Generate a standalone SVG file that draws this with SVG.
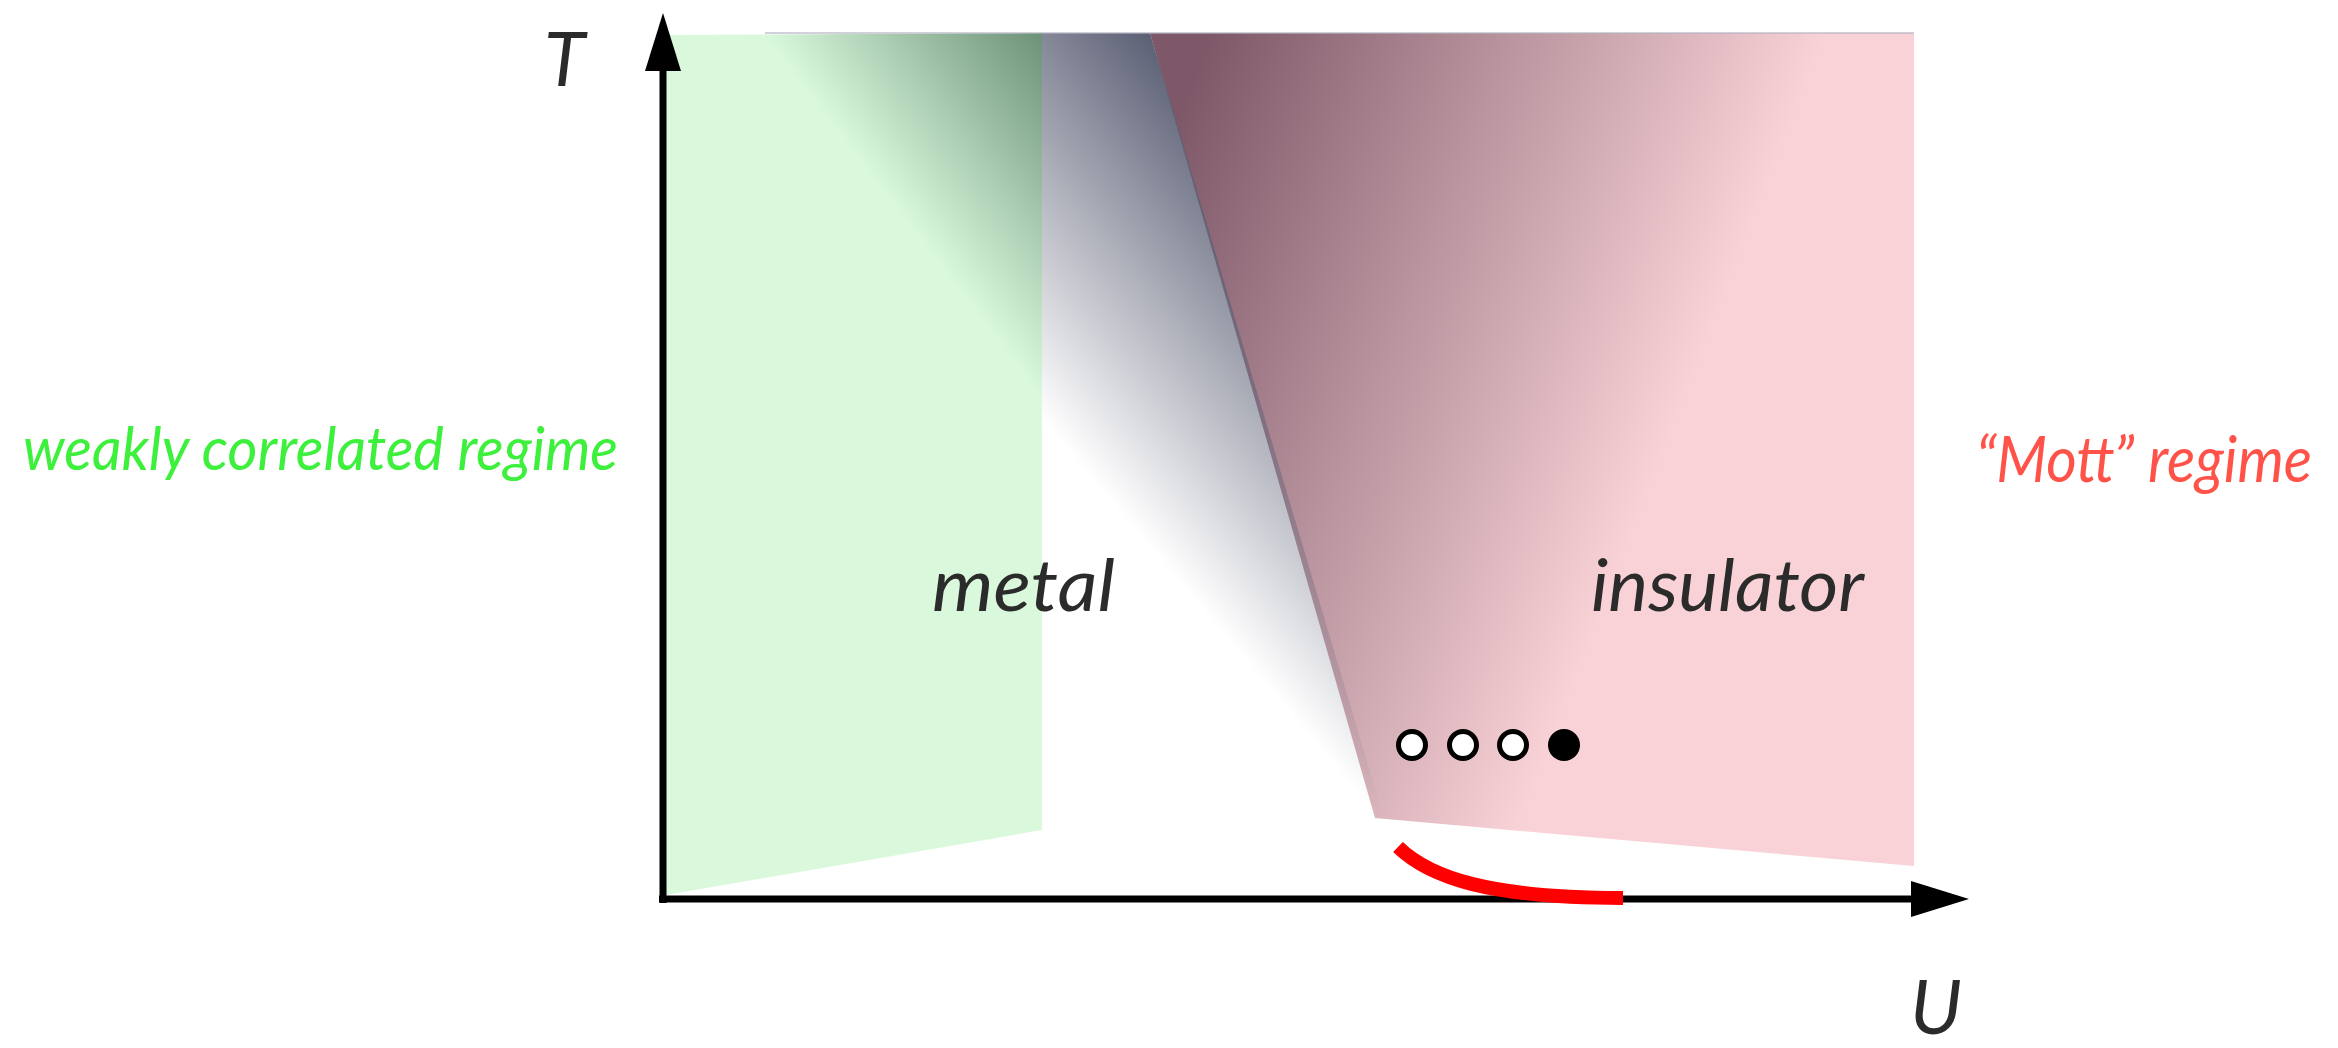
<svg xmlns="http://www.w3.org/2000/svg" width="2338" height="1048" viewBox="0 0 2338 1048">
<style>
.lbl{font-family:"Lato","Open Sans","Liberation Sans",sans-serif;font-style:italic;}
.dark{fill:#2b2b2b;}
.axis{stroke:#000;stroke-width:7;fill:none;}
.ring{fill:#fff;stroke:#000;stroke-width:5;}
</style>
<defs>
<linearGradient id="gGreen" gradientUnits="userSpaceOnUse" x1="865" y1="168" x2="1041" y2="33">
<stop offset="0" stop-color="#daf9dc"/>
<stop offset="1" stop-color="#6c9278"/>
</linearGradient>
<linearGradient id="gPink" gradientUnits="userSpaceOnUse" x1="1210" y1="33" x2="1746" y2="240">
<stop offset="0" stop-color="#7e5868"/>
<stop offset="1" stop-color="#f8d2d6"/>
</linearGradient>
<linearGradient id="gGray" gradientUnits="userSpaceOnUse" x1="896" y1="248" x2="1150" y2="33">
<stop offset="0" stop-color="#5c6075" stop-opacity="0"/>
<stop offset="1" stop-color="#5c6075" stop-opacity="1"/>
</linearGradient>
</defs>

<g id="regions">
<polygon id="weak-region" points="666,35 1042,33 1042,830 666,895" fill="url(#gGreen)"/>
<polygon id="mott-region" points="1150,33 1914,33 1914,866 1375,818" fill="url(#gPink)"/>
<polygon id="crossover-region" points="1042,33 1150,33 1388,832 1042,832" fill="url(#gGray)"/>
<line x1="765" y1="33" x2="1914" y2="33" stroke="#b4b4c0" stroke-width="2" opacity="0.6"/>
</g>

<g id="connectors">
<line class="axis" x1="663" y1="903" x2="663" y2="68"/>
<polygon points="645,71 663,13 681,71" fill="#000"/>
<line class="axis" x1="659" y1="899" x2="1914" y2="899"/>
<polygon points="1911,881 1969,899 1911,917" fill="#000"/>
<path id="transition-line" d="M1398 847 C1430 878 1490 898 1623 898" fill="none" stroke="#ff0000" stroke-width="14"/>
</g>

<g id="points">
<circle class="ring" cx="1412" cy="745" r="13.5"/>
<circle class="ring" cx="1463" cy="745" r="13.5"/>
<circle class="ring" cx="1513" cy="745" r="13.5"/>
<circle cx="1564" cy="745" r="16" fill="#000"/>
</g>

<g id="labels">
<text class="lbl dark" x="544" y="86" font-size="75">T</text>
<text class="lbl dark" x="1910" y="1034" font-size="76">U</text>
<text class="lbl" x="23" y="470" font-size="60" fill="#3cf03c" textLength="595" lengthAdjust="spacingAndGlyphs">weakly correlated regime</text>
<text class="lbl" x="1976" y="482" font-size="64" fill="#ff5349" textLength="336" lengthAdjust="spacingAndGlyphs">“Mott” regime</text>
<text class="lbl dark" x="932" y="611" font-size="72" textLength="183" lengthAdjust="spacingAndGlyphs">metal</text>
<text class="lbl dark" x="1591" y="611" font-size="72" textLength="273" lengthAdjust="spacingAndGlyphs">insulator</text>
</g>
</svg>
